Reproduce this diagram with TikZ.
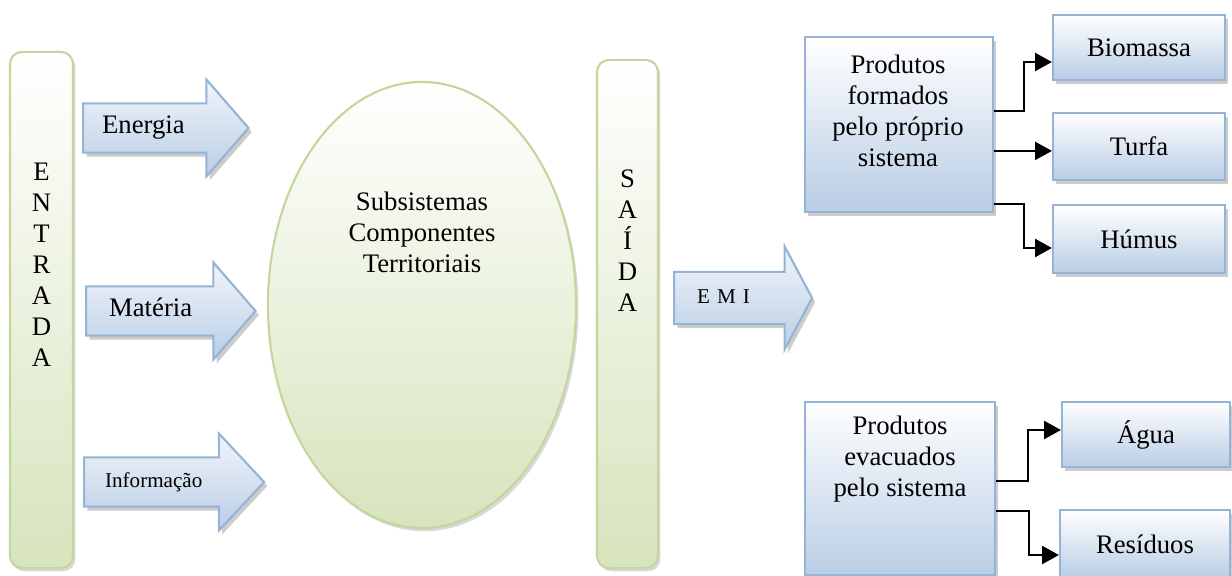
\documentclass[tikz,border=0pt]{standalone}
\usepackage{fontspec}
\setmainfont{Liberation Serif}
\usepackage{tikz}
\usetikzlibrary{calc, shapes.geometric, shapes.arrows, arrows.meta, shadows}
\definecolor{verdeborda}{HTML}{C3D69B}
\definecolor{verdefundo}{HTML}{D7E4BD}
\definecolor{azulborda}{HTML}{95B3D7}
\definecolor{azulfundo}{HTML}{B9CDE5}
\tikzset{
  barra/.style={
    rectangle, rounded corners=0.3cm, minimum width=1.575cm,
    draw=verdeborda, line width=1.5pt, top color=white, bottom color=verdefundo,
    drop shadow={shadow xshift=0.06cm,shadow yshift=-0.08cm,opacity=0.3}
  },
  elipse/.style={
    ellipse, minimum width=7.7cm, minimum height=11.15cm,
    draw=verdeborda, line width=1.5pt, top color=white, bottom color=verdefundo,
    drop shadow={shadow xshift=0.06cm,shadow yshift=-0.08cm,opacity=0.3}
  },
  produto/.style={
    rectangle, align=center, font=\fontsize{19}{22}\selectfont,
    draw=azulborda, line width=1.5pt, top color=white, bottom color=azulfundo,
    drop shadow={shadow xshift=0.08cm,shadow yshift=-0.1cm,opacity=0.4}
  },
  fluxo/.style={
    single arrow, anchor=tail, align=left, font=\fontsize{19}{22}\selectfont,
    text height=0.45cm, text depth=0.15cm, inner ysep=0.2875cm,
    single arrow head extend=0.6cm, single arrow tip angle=98,
    draw=azulborda, line width=1.5pt, top color=azulfundo!20, bottom color=azulfundo,
    drop shadow={shadow xshift=0.08cm,shadow yshift=-0.1cm,opacity=0.4}
  },
  letras/.style={
    align=center, font=\fontsize{19}{22}\selectfont
  },
  texto/.style={
    align=center, font=\fontsize{19}{22}\selectfont
  },
  arrow/.style={
    -{Triangle[length=0.42cm,width=0.45cm]}, line width=1.5pt, color=black
  }
}

\begin{document}
\begin{tikzpicture}[x=0.025cm, y=-0.025cm]
\useasboundingbox (0,0) rectangle (1232,576);

\node[barra, minimum height=12.9cm] (entrada) at (41.5,310) {};
\node[letras] (entradatxt) at (41.5,265) {E\\N\\T\\R\\A\\D\\A};
\node[barra, minimum width=1.525cm, minimum height=12.7cm] (saida) at (627.5,314) {};
\node[letras] (saidatxt) at (627.5,241) {S\\A\\Í\\D\\A};

\node[elipse] (subsistemas) at (422,305) {};
\node[texto] (subsistemastxt) at (422,232) {Subsistemas\\Componentes\\Territoriais};

\node[fluxo, text width=2.65cm, inner xsep=0.45cm] (energia) at (82,128) {Energia};
\node[fluxo, text width=2.55cm, inner xsep=0.55cm] (materia) at (85,311) {Matéria};
\node[fluxo, text width=2.875cm, inner xsep=0.5cm, single arrow tip angle=94,
  font=\fontsize{15}{18}\selectfont] (informacao) at (83,482) {Informação};
\node[fluxo, text width=1.95cm, inner xsep=0.55cm, inner ysep=0.325cm,
  single arrow head extend=0.64cm, single arrow tip angle=124,
  font=\fontsize{15}{18}\selectfont] (emi) at (673,298) {E M I};

\node[produto, minimum width=4.7cm, minimum height=4.375cm] (formados) at (899,124.5) {};
\node[texto] (formadostxt) at (898,111) {Produtos\\formados\\pelo próprio\\sistema};
\node[produto, minimum width=4.75cm, minimum height=4.325cm] (evacuados) at (900,488.5) {};
\node[texto] (evacuadostxt) at (900,459) {Produtos\\evacuados\\pelo sistema};

\node[produto, minimum width=4.3cm, minimum height=1.625cm] (biomassa) at (1139,47.5) {Biomassa};
\node[produto, minimum width=4.3cm, minimum height=1.675cm] (turfa) at (1139,146.5) {Turfa};
\node[produto, minimum width=4.3cm, minimum height=1.7cm] (humus) at (1139,239) {Húmus};
\node[produto, minimum width=4.2cm, minimum height=1.625cm] (agua) at (1146,434.5) {Água};
\node[produto, minimum width=4.25cm, minimum height=1.7cm] (residuos) at (1145,544) {Resíduos};

\draw[arrow] ($(formados.north east)+(0,75)$) -- ++(30,0) |- ($(biomassa.west)+(0,14.5)$);
\draw[arrow] ($(formados.north east)+(0,115)$) coordinate (turfasai) -- (turfasai -| turfa.west);
\draw[arrow] ($(formados.north east)+(0,168)$) -- ++(30,0) |- ($(humus.west)+(0,9)$);
\draw[arrow] ($(evacuados.north east)+(0,80)$) -- ++(32,0) |- ($(agua.west)+(0,-4.5)$);
\draw[arrow] ($(evacuados.north east)+(0,110)$) -- ++(33,0) |- ($(residuos.west)+(0,11)$);
\end{tikzpicture}
\end{document}
